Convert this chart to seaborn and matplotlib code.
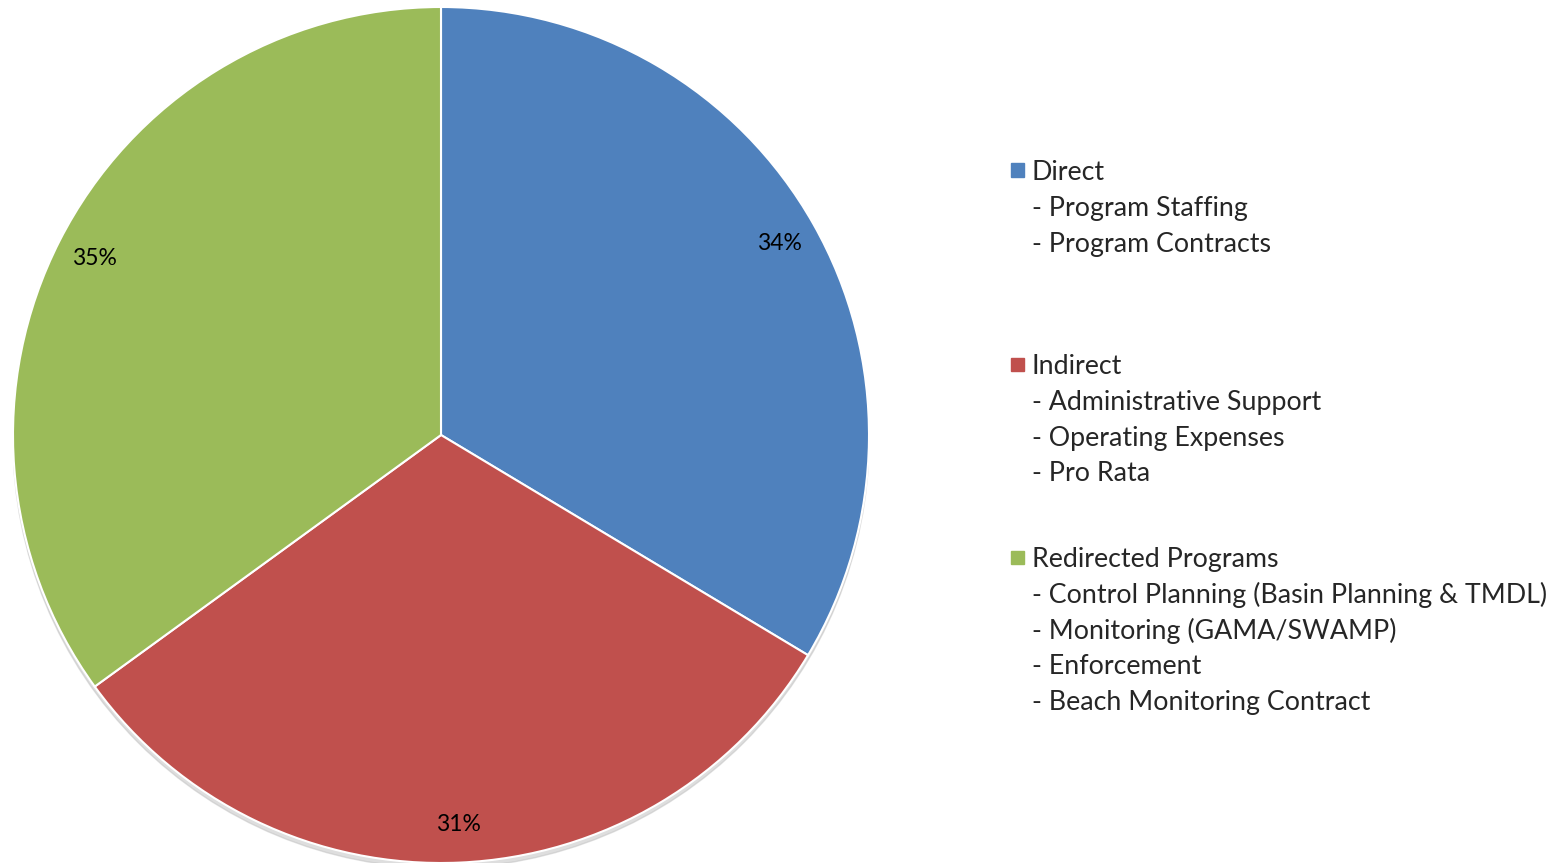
import matplotlib
matplotlib.use("Agg")
import matplotlib.pyplot as plt
import matplotlib.patches as mpatches
import seaborn as sns

sns.set_theme(style="white")
plt.rcParams['font.family'] = ['Lato', 'DejaVu Sans']

# data (shares; labels show rounded values)
categories = ['Direct', 'Indirect', 'Redirected Programs']
shares = [33.6, 31.4, 35.0]
colors = ['#4F81BD', '#C0504D', '#9BBB59']
sub_items = [
    ['Program Staffing', 'Program Contracts'],
    ['Administrative Support', 'Operating Expenses', 'Pro Rata'],
    ['Control Planning (Basin Planning & TMDL)', 'Monitoring (GAMA/SWAMP)',
     'Enforcement', 'Beach Monitoring Contract'],
]

W, H = 1559, 865
fig = plt.figure(figsize=(W / 100, H / 100), dpi=100)

# pie axes: centre (441, 435), radius 428 px
cx, cy, r = 441, 435, 428
ax = fig.add_axes([(cx - r) / W, (H - cy - r) / H, 2 * r / W, 2 * r / H])

# faint shadow under the pie
shadow = mpatches.Circle((0.0, -0.012), 1.0, color='#bfbfbf', alpha=0.5, zorder=0)
ax.add_patch(shadow)

ax.pie(shares, colors=colors, startangle=90, counterclock=False,
       autopct='%.0f%%', pctdistance=0.91,
       wedgeprops=dict(edgecolor='white', linewidth=1.5),
       textprops=dict(fontsize=16.5, color='black'))
ax.set_xlim(-1, 1)
ax.set_ylim(-1, 1)
ax.set_aspect('equal')
ax.axis('off')

# legend drawn as text
group_tops = [170, 364, 557]
line_step = 35.8
fs = 19.3
for cat, col, subs, top in zip(categories, colors, sub_items, group_tops):
    sq = 13
    fig.patches.append(mpatches.Rectangle((1011 / W, (H - top - sq / 2) / H), sq / W, sq / H,
                                          transform=fig.transFigure, color=col))
    fig.text(1032 / W, (H - top) / H, cat, fontsize=fs, va='center_baseline', ha='left')
    for i, s in enumerate(subs):
        fig.text(1032 / W, (H - top - (i + 1) * line_step) / H, '- ' + s,
                 fontsize=fs, va='center_baseline', ha='left')

fig.savefig('out.png', dpi=100)
